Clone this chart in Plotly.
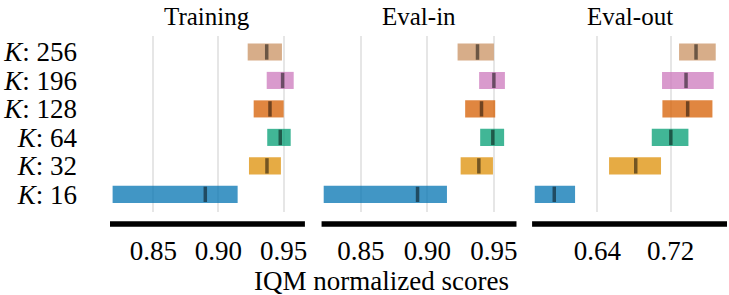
import plotly.graph_objects as go

# ---- data ----
k_labels = ["<i>K</i>: 16", "<i>K</i>: 32", "<i>K</i>: 64", "<i>K</i>: 128", "<i>K</i>: 196", "<i>K</i>: 256"]
panels = ["Training", "Eval-in", "Eval-out"]

train_lower = [0.8188, 0.9234, 0.9374, 0.9270, 0.9370, 0.9224]
train_upper = [0.9147, 0.9479, 0.9554, 0.9500, 0.9577, 0.9487]
train_median = [0.8899, 0.9372, 0.9474, 0.9395, 0.9492, 0.9370]

evalin_lower = [0.8220, 0.9250, 0.9397, 0.9284, 0.9389, 0.9227]
evalin_upper = [0.9147, 0.9493, 0.9577, 0.9510, 0.9583, 0.9500]
evalin_median = [0.8926, 0.9387, 0.9492, 0.9407, 0.9500, 0.9377]

evalout_lower = [0.5716, 0.6527, 0.6993, 0.7109, 0.7105, 0.7291]
evalout_upper = [0.6156, 0.7094, 0.7393, 0.7655, 0.7669, 0.7691]
evalout_median = [0.5929, 0.6818, 0.7201, 0.7385, 0.7367, 0.7476]

tick_train = [0.85, 0.90, 0.95]
tick_evalin = [0.85, 0.90, 0.95]
tick_evalout = [0.64, 0.72]

x_title = "IQM normalized scores"

# ---- style ----
colors = ["rgba(1,115,178,0.75)", "rgba(222,143,5,0.75)", "rgba(2,158,115,0.75)",
          "rgba(213,94,0,0.75)", "rgba(204,120,188,0.75)", "rgba(202,145,97,0.75)"]
FONT = "Liberation Serif"
domains = [[0.0, 0.3159], [0.3429, 0.6588], [0.6841, 1.0]]
xranges = [[0.8168, 0.9663], [0.8204, 0.9670], [0.5687, 0.7814]]

data = [(train_lower, train_upper, train_median, tick_train),
        (evalin_lower, evalin_upper, evalin_median, tick_evalin),
        (evalout_lower, evalout_upper, evalout_median, tick_evalout)]

fig = go.Figure()
ypos = list(range(len(k_labels)))

for i, (lo, hi, med, ticks) in enumerate(data):
    xa = "x" if i == 0 else f"x{i+1}"
    fig.add_trace(go.Bar(
        y=ypos, x=[h - l for l, h in zip(lo, hi)], base=lo, orientation="h",
        width=0.6, marker=dict(color=colors, line=dict(width=0)),
        xaxis=xa, yaxis="y", showlegend=False, hoverinfo="skip"))
    mx, my = [], []
    for yy, m in zip(ypos, med):
        mx += [m, m, None]
        my += [yy - 0.27, yy + 0.27, None]
    fig.add_trace(go.Scatter(
        x=mx, y=my, mode="lines", line=dict(color="rgba(0,0,0,0.5)", width=3.5),
        xaxis=xa, yaxis="y", showlegend=False, hoverinfo="skip"))

layout = dict(
    width=729, height=295,
    margin=dict(l=110, r=2, t=36, b=83, autoexpand=False),
    paper_bgcolor="white", plot_bgcolor="white",
    font=dict(family=FONT, size=27, color="black"),
    barmode="overlay",
    yaxis=dict(range=[-0.62, 5.56], tickvals=ypos, ticktext=k_labels,
               showgrid=False, zeroline=False, showline=False, ticks="",
               automargin=False,
               ticklabelstandoff=32, tickfont=dict(size=27, family=FONT)),
)
for i, (lo, hi, med, ticks) in enumerate(data):
    key = "xaxis" if i == 0 else f"xaxis{i+1}"
    layout[key] = dict(
        domain=domains[i], range=xranges[i], anchor="y",
        tickvals=ticks, tickformat=".2f", showgrid=True, automargin=False,
        gridcolor="#e6e6e6", gridwidth=1.5, zeroline=False, showline=False,
        ticks="", ticklabelstandoff=20, tickfont=dict(size=27, family=FONT))
fig.update_layout(**layout)

shapes = []
annotations = []
for i, name in enumerate(panels):
    xref = "x domain" if i == 0 else f"x{i+1} domain"
    shapes.append(dict(type="line", xref=xref, yref="paper", x0=0, x1=1,
                       y0=-0.068, y1=-0.068, line=dict(color="black", width=5.5)))
    annotations.append(dict(text=name, xref=xref, yref="paper", x=0.5, y=1.0,
                            yshift=4, xanchor="center", yanchor="bottom", showarrow=False,
                            font=dict(size=25, family=FONT)))
annotations.append(dict(text=x_title, xref="paper", yref="paper", x=0.44, y=0,
                        yshift=-52, xanchor="center", yanchor="top", showarrow=False,
                        font=dict(size=27, family=FONT)))
fig.update_layout(shapes=shapes, annotations=annotations)

fig.write_html("out.html", config={"displayModeBar": False},
               post_script="document.body.style.margin='0';document.body.style.overflow='hidden';")
